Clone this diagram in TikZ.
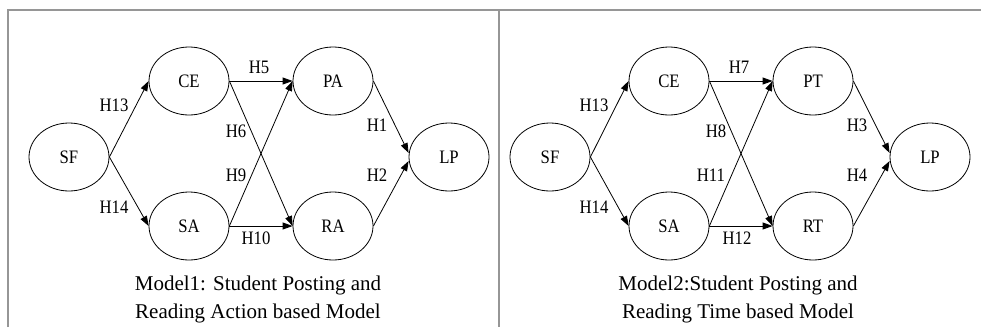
\documentclass[tikz,border=0pt]{standalone}
\usepackage{fontspec}
\setmainfont{Liberation Serif}
\newfontfamily\narrowserif[FakeStretch=0.88]{Liberation Serif}
\usetikzlibrary{arrows.meta,shapes.geometric}
\definecolor{framegray}{RGB}{150,150,150}
\newcommand{\varfont}{\narrowserif\fontsize{19}{21}\selectfont}
\newcommand{\capfont}{\fontsize{21}{28}\selectfont}

\begin{document}
\begin{tikzpicture}[x=1pt,y=-1pt,>={Triangle[length=10pt,width=7pt]},
    var/.style={draw,ellipse,line width=0.8pt,minimum width=80pt,minimum height=68pt,inner sep=0pt,font=\varfont},
    hyp/.style={font=\varfont,inner sep=0pt},
    path/.style={->,line width=0.8pt}]
    \useasboundingbox (0,0) rectangle (981,327);
    \draw[framegray,line width=1.3pt] (8,327) -- (8,10) -- (981,10);
    \draw[framegray,line width=1.3pt] (499,10) -- (499,327);

    \begin{scope}
      \node[var] (SF) at (69,157) {SF};
      \node[var] (CE) at (189,81) {CE};
      \node[var] (SA) at (189,226) {SA};
      \node[var] (PA) at (333,81) {PA};
      \node[var] (RA) at (333,226) {RA};
      \node[var] (LP) at (449,157) {LP};
      \draw[path] (SF.east) -- (CE.west);
      \draw[path] (SF.east) -- (SA.west);
      \draw[path] (CE.east) -- (PA.west);
      \draw[path] (CE.east) -- (RA.west);
      \draw[path] (SA.east) -- (PA.west);
      \draw[path] (SA.east) -- (RA.west);
      \draw[path] (PA.east) -- ([yshift=4pt]LP.west);
      \draw[path] (RA.east) -- ([yshift=-4pt]LP.west);
      \node[hyp] (h13) at (114,105) {H13};
      \node[hyp] (h14) at (114,207) {H14};
      \node[hyp] (h5) at (259,67) {H5};
      \node[hyp] (h6) at (236,131) {H6};
      \node[hyp] (h9) at (236,175) {H9};
      \node[hyp] (h10) at (256,238) {H10};
      \node[hyp] (h1) at (377,125) {H1};
      \node[hyp] (h2) at (377,175) {H2};
      \node[font=\capfont,align=center] (cap1) at (258,299) {Model1: Student Posting and\\Reading Action based Model};
    \end{scope}

    \begin{scope}[xshift=480pt]
      \node[var] (SF2) at (70,157) {SF};
      \node[var] (CE2) at (189,81) {CE};
      \node[var] (SA2) at (189,226) {SA};
      \node[var] (PT) at (333,81) {PT};
      \node[var] (RT) at (333,226) {RT};
      \node[var] (LP2) at (450,157) {LP};
      \draw[path] (SF2.east) -- (CE2.west);
      \draw[path] (SF2.east) -- (SA2.west);
      \draw[path] (CE2.east) -- (PT.west);
      \draw[path] (CE2.east) -- (RT.west);
      \draw[path] (SA2.east) -- (PT.west);
      \draw[path] (SA2.east) -- (RT.west);
      \draw[path] (PT.east) -- ([yshift=4pt]LP2.west);
      \draw[path] (RT.east) -- ([yshift=-4pt]LP2.west);
      \node[hyp] (h13b) at (114,105) {H13};
      \node[hyp] (h14b) at (114,207) {H14};
      \node[hyp] (h7) at (259,67) {H7};
      \node[hyp] (h8) at (236,131) {H8};
      \node[hyp] (h11) at (231,175) {H11};
      \node[hyp] (h12) at (257,238) {H12};
      \node[hyp] (h3) at (377,125) {H3};
      \node[hyp] (h4) at (377,175) {H4};
      \node[font=\capfont,align=center] (cap2) at (258,299) {Model2:Student Posting and\\Reading Time based Model};
    \end{scope}
\end{tikzpicture}
\end{document}
